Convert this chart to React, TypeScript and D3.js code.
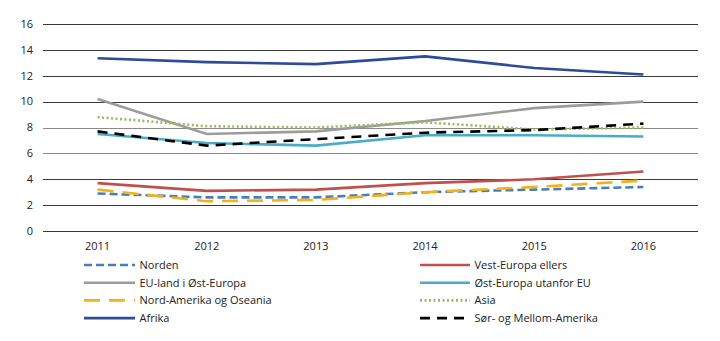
import React from "react";
import * as d3 from "d3";

const years = ["2011", "2012", "2013", "2014", "2015", "2016"];
const yTicks = [0, 2, 4, 6, 8, 10, 12, 14, 16];

const norden = [2.9, 2.6, 2.6, 3.0, 3.2, 3.4];
const vestEuropa = [3.7, 3.1, 3.2, 3.7, 4.0, 4.6];
const euOst = [10.2, 7.5, 7.7, 8.5, 9.5, 10.0];
const ostUtanfor = [7.5, 6.8, 6.6, 7.4, 7.4, 7.3];
const nordAmerika = [3.2, 2.3, 2.4, 3.0, 3.4, 3.9];
const asia = [8.8, 8.1, 8.0, 8.4, 7.85, 8.0];
const afrika = [13.35, 13.05, 12.9, 13.5, 12.6, 12.1];
const sorAmerika = [7.7, 6.6, 7.1, 7.6, 7.8, 8.3];

const seriesNames = [
  "Norden",
  "Vest-Europa ellers",
  "EU-land i Øst-Europa",
  "Øst-Europa utanfor EU",
  "Nord-Amerika og Oseania",
  "Asia",
  "Afrika",
  "Sør- og Mellom-Amerika",
];
const seriesValues = [norden, vestEuropa, euOst, ostUtanfor, nordAmerika, asia, afrika, sorAmerika];
const styles = [
  { color: "#4A7EBB", dash: "8 4" },
  { color: "#C0504D", dash: "" },
  { color: "#9C9C9C", dash: "" },
  { color: "#4BACC6", dash: "" },
  { color: "#F0B31A", dash: "16 9" },
  { color: "#9BBB59", dash: "2 2.5" },
  { color: "#2E4A9A", dash: "" },
  { color: "#000000", dash: "10 7" },
];

export default function App() {
  const W = 720, H = 341;
  const left = 43, right = 698, top = 24, bottom = 231;
  const x = d3.scaleBand<string>().domain(years).range([left, right]);
  const y = d3.scaleLinear().domain([0, 16]).range([bottom, top]);
  const cx = (d: string) => (x(d) as number) + x.bandwidth() / 2;
  const line = d3
    .line<number>()
    .x((_, i) => cx(years[i]))
    .y((d) => y(d));
  const font = "'Open Sans', 'Liberation Sans', sans-serif";

  return (
    <svg width={W} height={H} style={{ position: "absolute", left: 0, top: 0 }} fontFamily={font}>
      <rect width={W} height={H} fill="#fff" />
      {yTicks.map((t) => (
        <g key={t}>
          <line
            x1={left}
            x2={right}
            y1={Math.round(y(t)) + 0.5}
            y2={Math.round(y(t)) + 0.5}
            stroke={t === 6 || t === 8 ? "#8a8a8a" : "#3a3a3a"}
            strokeWidth={1}
          />
          <text x={33} y={y(t)} dy="0.35em" textAnchor="end" fontSize={11} fill="#222">
            {t}
          </text>
        </g>
      ))}
      {years.map((yr) => (
        <text key={yr} x={cx(yr)} y={250} textAnchor="middle" fontSize={11} fill="#222">
          {yr}
        </text>
      ))}
      {seriesValues.map((vals, i) => (
        <path
          key={seriesNames[i]}
          d={line(vals) || ""}
          fill="none"
          stroke={styles[i].color}
          strokeWidth={2.6}
          strokeDasharray={styles[i].dash || undefined}
        />
      ))}
      {seriesNames.map((name, i) => {
        const col = i % 2;
        const row = Math.floor(i / 2);
        const sx = col === 0 ? 84 : 420;
        const ex = col === 0 ? 135 : 470;
        const ly = 265 + row * 17.7;
        return (
          <g key={name}>
            <line
              x1={sx}
              x2={ex}
              y1={ly}
              y2={ly}
              stroke={styles[i].color}
              strokeWidth={2.6}
              strokeDasharray={styles[i].dash || undefined}
            />
            <text x={ex + 4.5} y={ly} dy="0.35em" fontSize={11} fill="#222">
              {name}
            </text>
          </g>
        );
      })}
    </svg>
  );
}
